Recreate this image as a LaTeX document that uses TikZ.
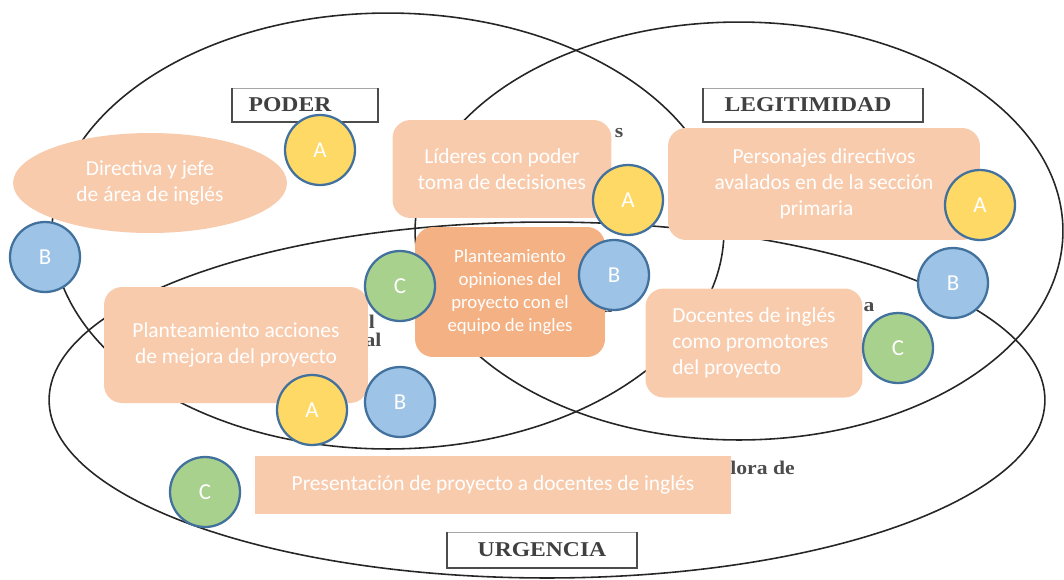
\documentclass[tikz,border=0pt]{standalone}
\usepackage{fontspec}
\setmainfont{Carlito}
\newfontfamily\tagfont[FakeStretch=1.12]{Liberation Serif}
\usetikzlibrary{shapes.geometric}
\definecolor{peach}{HTML}{F8CBAD}
\definecolor{peachdark}{HTML}{F4B183}
\definecolor{dotyellow}{HTML}{FFD966}
\definecolor{dotblue}{HTML}{9DC3E6}
\definecolor{dotgreen}{HTML}{A9D18E}
\definecolor{dotedge}{HTML}{41719C}
\tikzset{
  set/.style={draw=black!85, line width=0.9pt},
  dot/.style={circle, draw=dotedge, line width=1.3pt, minimum size=1.4cm, inner sep=0pt, text=white, font=\fontsize{13}{15}\selectfont},
  idea/.style={rounded corners=0.36cm, fill=peach, text=white, align=center, inner sep=0pt, font=\fontsize{12.2}{14.7}\selectfont},
  tag/.style={draw=black!35, line width=0.4pt, fill=white, inner sep=0pt, text=black!75, font=\tagfont\bfseries\fontsize{12}{14}\selectfont},
  scrap/.style={inner sep=0pt, text=black!70, font=\tagfont\bfseries\fontsize{11}{13}\selectfont},
}
\begin{document}
\begin{tikzpicture}[x=0.02cm,y=-0.02cm]
\useasboundingbox (0,0) rectangle (1064,579);
% the three sets
\draw[set] (388,231) ellipse (6.72cm and 4.36cm);
\draw[set] (739,231) ellipse (6.48cm and 4.18cm);
\draw[set] (547,400) ellipse (9.96cm and 3.56cm);
% bits of the old text that still show
\node[scrap] (s1) at (619,133) {s};
\node[scrap] (s2) at (372,322) {l};
\node[scrap] (s3) at (373,340) {al};
\node[scrap] (s4) at (607,308) {a};
\node[scrap] (s5) at (869,307) {a};
\node[scrap, anchor=west] (s6) at (730,468) {lora de};
% set names
\node[tag, minimum width=2.92cm, minimum height=0.68cm] (poder) at (305,105) {PODER\hspace*{0.6cm}};
\node[tag, minimum width=4.4cm, minimum height=0.68cm] (legit) at (813,105) {LEGITIMIDAD\hspace*{0.2cm}};
\node[tag, minimum width=3.8cm, minimum height=0.72cm] (urgen) at (542,550) {URGENCIA};
\foreach \t in {poder, legit, urgen}
  \draw[black!70, line width=1pt] (\t.north west) -- (\t.south west) -- (\t.south east) -- (\t.north east);
% stakeholders
\node[idea, ellipse, minimum width=5.48cm, minimum height=2cm] (directiva) at (150,183) {Directiva y jefe\\de área de inglés};
\node[idea, minimum width=4.38cm, minimum height=1.96cm] (lideres) at (502,169) {Líderes con poder\\toma de decisiones};
\node[idea, minimum width=6.24cm, minimum height=2.24cm] (personajes) at (824,184) {Personajes directivos\\avalados en de la sección\\primaria\hspace*{0.3cm}};
\node[idea, fill=peachdark, minimum width=3.8cm, minimum height=2.6cm, font=\fontsize{10.7}{13}\selectfont] (opiniones) at (510,292) {Planteamiento\\opiniones del\\proyecto con el\\equipo de ingles};
\node[idea, minimum width=5.28cm, minimum height=2.32cm] (acciones) at (236,345) {Planteamiento acciones\\de mejora del proyecto};
\node[idea, align=left, minimum width=4.34cm, minimum height=2.18cm] (docentes) at (754,343) {Docentes de inglés\\como promotores\\del proyecto};
\node[idea, rounded corners=0pt, minimum width=9.52cm, minimum height=1.16cm] (presentacion) at (493,485) {Presentación de proyecto a docentes de inglés};
% A B C marks
\foreach \n/\x/\y in {a1/320/150, a2/628/200, a3/980/205, a4/312/410}
  \node[dot, fill=dotyellow] (\n) at (\x,\y) {A};
\foreach \n/\x/\y in {b1/45/257, b2/614/275, b3/953/283, b4/400/402}
  \node[dot, fill=dotblue] (\n) at (\x,\y) {B};
\foreach \n/\x/\y in {c1/400/286, c2/898/348, c3/205/492}
  \node[dot, fill=dotgreen] (\n) at (\x,\y) {C};
\end{tikzpicture}
\end{document}
